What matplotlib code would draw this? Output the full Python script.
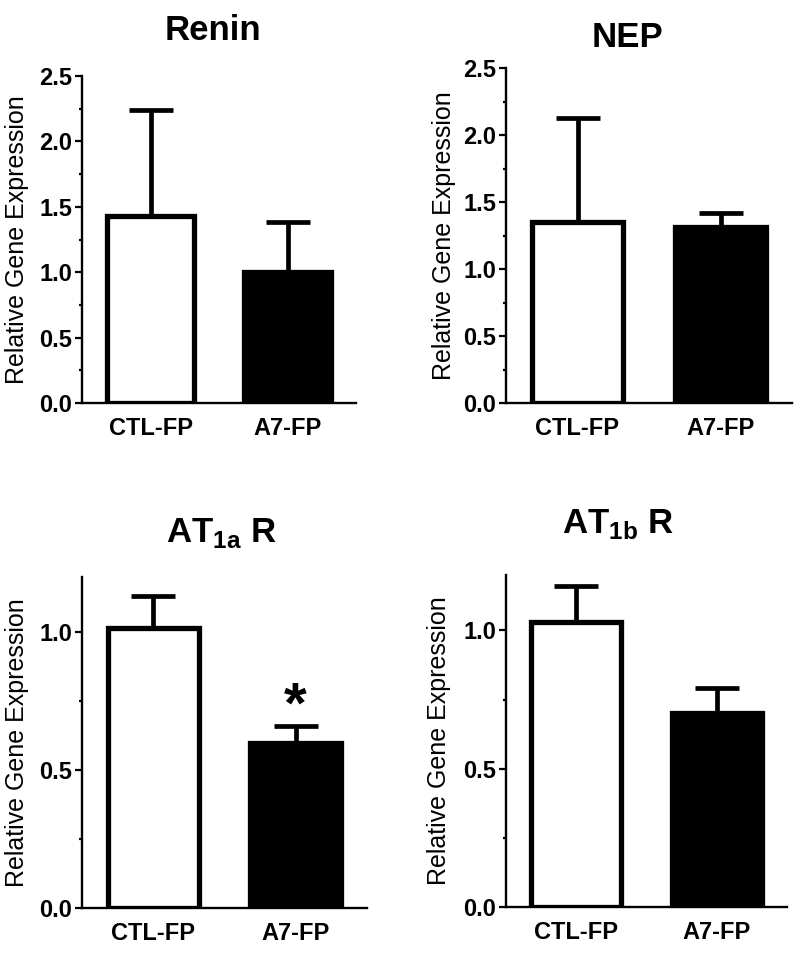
import numpy as np
import matplotlib
matplotlib.use('Agg')
import matplotlib.pyplot as plt
from matplotlib.ticker import MultipleLocator, FormatStrFormatter

plt.rcParams['font.family'] = ['Liberation Sans', 'DejaVu Sans']
plt.rcParams['mathtext.fontset'] = 'custom'
plt.rcParams['mathtext.rm'] = 'Liberation Sans:bold'
plt.rcParams['mathtext.bf'] = 'Liberation Sans:bold'

groups = ['CTL-FP', 'A7-FP']
titles = ['Renin', 'NEP', r'AT$_{\mathbf{1a}}$ R', r'AT$_{\mathbf{1b}}$ R']
means = [[1.43, 1.00], [1.35, 1.31], [1.015, 0.60], [1.03, 0.70]]
errs = [[0.81, 0.38], [0.78, 0.11], [0.115, 0.06], [0.13, 0.09]]
ymax = [2.5, 2.5, 1.2, 1.2]
ystep = [0.5, 0.5, 0.5, 0.5]
stars = [None, None, '*', None]  # mark on A7-FP
star_y = 0.725

W, H = 800, 958
# axes boxes in pixels: left, right, top, bottom
px_boxes = [(82, 356, 76, 403), (506, 792, 68, 403),
            (82, 367, 577, 908), (506, 787, 575, 907)]
title_pos = [(213, 40), (628, 47), (221, 542), (618, 533)]  # center x, baseline y
ylabel_x = [29, 456, 29, 451]  # right edge of rotated label

fig = plt.figure(figsize=(W / 100, H / 100), dpi=100)
x = np.array([1, 2])

for i in range(4):
    l, r, t, b = px_boxes[i]
    ax = fig.add_axes([l / W, 1 - b / H, (r - l) / W, (b - t) / H])
    ax.bar(x, means[i], width=0.64, color=['white', 'black'],
           edgecolor='black', linewidth=3.8, zorder=3)
    ax.errorbar(x, means[i], yerr=[[0, 0], errs[i]], fmt='none',
                ecolor='black', elinewidth=3.4, capsize=16, capthick=3.4, zorder=2)
    if stars[i]:
        ax.text(2, star_y, stars[i], ha='center', va='center',
                fontsize=42, fontweight='bold')
    ax.set_xlim(0.5, 2.5)
    ax.set_ylim(0, ymax[i])
    ax.yaxis.set_major_locator(MultipleLocator(ystep[i]))
    ax.yaxis.set_minor_locator(MultipleLocator(ystep[i] / 2))
    ax.yaxis.set_major_formatter(FormatStrFormatter('%.1f'))
    ax.set_xticks(x)
    ax.set_xticklabels(groups, fontsize=17, fontweight='bold')
    ax.tick_params(axis='x', length=0, pad=10)
    ax.tick_params(axis='y', which='major', length=5, width=1.6, labelsize=17, pad=2)
    ax.tick_params(axis='y', which='minor', length=2.5, width=1.6)
    for lab in ax.get_yticklabels():
        lab.set_fontweight('bold')
    for s in ['top', 'right']:
        ax.spines[s].set_visible(False)
    for s in ['left', 'bottom']:
        ax.spines[s].set_linewidth(1.7)
    ax.set_ylabel('Relative Gene Expression', fontsize=18)
    ax.yaxis.set_label_coords((ylabel_x[i] - l) / (r - l), 0.5)
    tx, ty = title_pos[i]
    fig.text(tx / W, 1 - ty / H, titles[i], ha='center', va='baseline',
             fontsize=25, fontweight='bold')

fig.savefig('out.png', dpi=100)
